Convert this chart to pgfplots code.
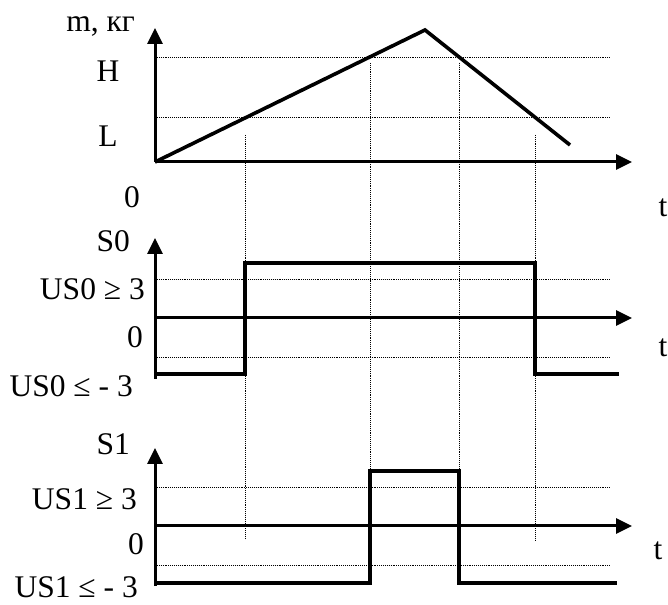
\documentclass[border=0pt]{standalone}
\usepackage{pgfplots}
\pgfplotsset{compat=1.18}
\usepackage{fontspec}
\setmainfont{Liberation Serif}
\usetikzlibrary{arrows.meta}
\begin{document}
\begin{tikzpicture}
\begin{axis}[
  width=668pt, height=604pt, scale only axis,
  xmin=0, xmax=668, ymin=-604, ymax=0,
  hide axis, clip=false,
  every axis plot/.append style={black},
]
% dotted reference lines
\addplot[line width=0.9pt, densely dotted] coordinates {(155,-57) (610,-57)};
\addplot[line width=0.9pt, densely dotted] coordinates {(155,-117) (610,-117)};
\addplot[line width=0.9pt, densely dotted] coordinates {(155,-279) (610,-279)};
\addplot[line width=0.9pt, densely dotted] coordinates {(155,-357) (610,-357)};
\addplot[line width=0.9pt, densely dotted] coordinates {(155,-487) (610,-487)};
\addplot[line width=0.9pt, densely dotted] coordinates {(155,-565) (610,-565)};
\addplot[line width=0.9pt, densely dotted] coordinates {(245,-135) (245,-538)};
\addplot[line width=0.9pt, densely dotted] coordinates {(370,-63) (370,-471)};
\addplot[line width=0.9pt, densely dotted] coordinates {(459,-63) (459,-471)};
\addplot[line width=0.9pt, densely dotted] coordinates {(535,-135) (535,-541)};
% axes
\addplot[line width=3pt, -{Triangle[length=16pt,width=15pt]}] coordinates {(155,-162) (155,-28)};
\addplot[line width=3pt, -{Triangle[length=16pt,width=15pt]}] coordinates {(155,-162) (632,-162)};
\addplot[line width=3pt, -{Triangle[length=16pt,width=15pt]}] coordinates {(155,-379) (155,-238)};
\addplot[line width=3pt, -{Triangle[length=16pt,width=15pt]}] coordinates {(155,-318) (632,-318)};
\addplot[line width=3pt, -{Triangle[length=16pt,width=15pt]}] coordinates {(155,-586) (155,-448)};
\addplot[line width=3pt, -{Triangle[length=16pt,width=15pt]}] coordinates {(155,-526) (632,-526)};
% signals
\addplot[line width=3.6pt, line join=miter] coordinates {(155,-162) (425,-30) (570,-145)};
\addplot[line width=3.6pt, line join=miter] coordinates {(155,-374) (245,-374) (245,-263) (535,-263) (535,-374) (619,-374)};
\addplot[line width=3.6pt, line join=miter] coordinates {(155,-583) (370,-583) (370,-471) (459,-471) (459,-583) (617,-583)};
% labels
\tikzset{lbl/.style={inner sep=0pt, font=\fontsize{31.5}{38}\selectfont}}
\node[lbl, anchor=base east] at (axis cs:135,-32) {m, кг};
\node[lbl, anchor=base] at (axis cs:108,-82) {H};
\node[lbl, anchor=base] at (axis cs:108,-147) {L};
\node[lbl, anchor=base] at (axis cs:132,-208) {0};
\node[lbl, anchor=base] at (axis cs:663,-217) {t};
\node[lbl, anchor=base east] at (axis cs:130,-252) {S0};
\node[lbl, anchor=base east] at (axis cs:145,-300) {US0 ≥ 3};
\node[lbl, anchor=base east] at (axis cs:143,-348) {0};
\node[lbl, anchor=base east] at (axis cs:133,-397) {US0 ≤ - 3};
\node[lbl, anchor=base] at (axis cs:663,-357) {t};
\node[lbl, anchor=base east] at (axis cs:130,-455) {S1};
\node[lbl, anchor=base east] at (axis cs:137,-510) {US1 ≥ 3};
\node[lbl, anchor=base east] at (axis cs:144,-555) {0};
\node[lbl, anchor=base east] at (axis cs:138,-597) {US1 ≤ - 3};
\node[lbl, anchor=base] at (axis cs:658,-560) {t};
\coordinate (SW) at (axis cs:0,-604);
\coordinate (NE) at (axis cs:668,0);
\end{axis}
\pgfresetboundingbox
\useasboundingbox (SW) rectangle (NE);
\end{tikzpicture}
\end{document}
